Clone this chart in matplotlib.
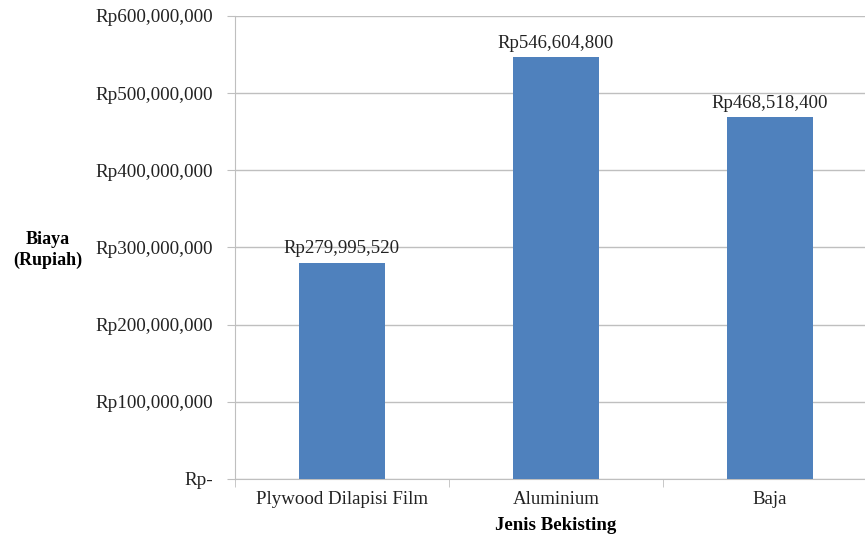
import matplotlib.pyplot as plt
from matplotlib.ticker import FuncFormatter

jenis = ["Plywood Dilapisi Film", "Aluminium", "Baja"]
biaya = [279995520, 546604800, 468518400]
yticks = [0, 100000000, 200000000, 300000000, 400000000, 500000000, 600000000]

plt.rcParams["font.family"] = ["Liberation Serif", "DejaVu Serif"]

fig = plt.figure(figsize=(8.65, 5.38), dpi=100)
ax = fig.add_axes([0.2717, 0.1097, 0.742, 0.8606])

x = range(len(jenis))
ax.bar(x, biaya, width=0.40, color="#4F81BD", zorder=3)
for xi, v in zip(x, biaya):
    ax.annotate("Rp{:,}".format(v), (xi, v), xytext=(0, 4), textcoords="offset points",
                ha="center", va="bottom", fontsize=13.6, color="#222222")

def rupiah(v, pos):
    if v == 0:
        return "Rp-"
    return "Rp{:,.0f}".format(v)

ax.set_ylim(0, 600000000)
ax.set_yticks(yticks)
ax.yaxis.set_major_formatter(FuncFormatter(rupiah))
ax.set_xlim(-0.5, 2.5)
ax.set_xticks(x)
ax.set_xticklabels(jenis)
ax.set_xticks([-0.5, 0.5, 1.5, 2.5], minor=True)

ax.grid(axis="y", color="#BFBFBF", linewidth=1, zorder=0)
for s in ["top", "right"]:
    ax.spines[s].set_visible(False)
ax.spines["left"].set_color("#BFBFBF")
ax.spines["bottom"].set_color("#BFBFBF")
ax.tick_params(axis="y", length=6, color="#BFBFBF", labelsize=13.8, labelcolor="#222222", pad=10)
ax.tick_params(axis="x", which="major", length=0, labelsize=13.6, labelcolor="#222222", pad=9)
ax.tick_params(axis="x", which="minor", length=6, color="#BFBFBF")

fig.text(48 / 865, 1 - 250 / 538, "Biaya\n(Rupiah)", ha="center", va="center",
         fontsize=13.0, fontweight="bold", linespacing=1.25)
fig.text(556 / 865, 1 - 526 / 538, "Jenis Bekisting", ha="center", va="center",
         fontsize=13.6, fontweight="bold")

fig.savefig("out.png", dpi=100)
